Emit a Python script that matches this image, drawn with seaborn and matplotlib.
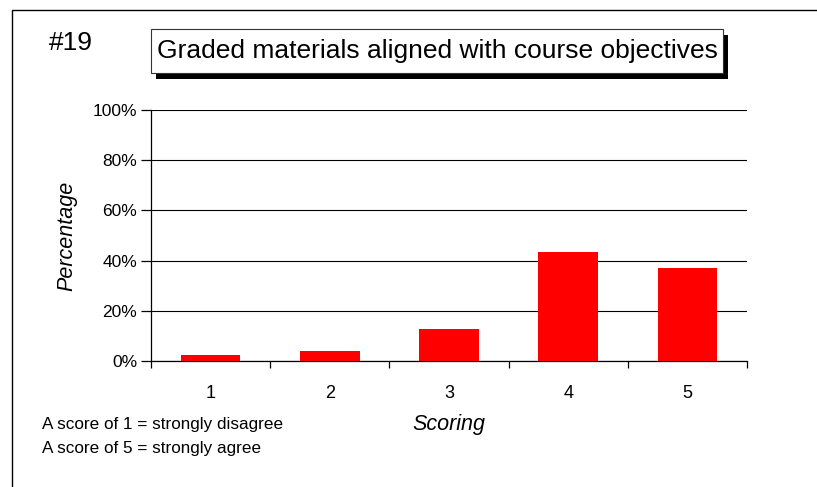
import matplotlib
matplotlib.use("Agg")
import matplotlib.pyplot as plt
import seaborn as sns
from matplotlib.patches import Rectangle

# Chart data
scores = ["1", "2", "3", "4", "5"]
percentages = [2.5, 4.1, 12.9, 43.5, 37.1]
y_ticks = [0, 20, 40, 60, 80, 100]
y_tick_labels = ["0%", "20%", "40%", "60%", "80%", "100%"]

sns.set_style("white")
plt.rcParams["font.family"] = ["Liberation Sans", "DejaVu Sans"]
plt.rcParams["text.color"] = "black"
plt.rcParams["axes.labelcolor"] = "black"
plt.rcParams["xtick.color"] = "black"
plt.rcParams["ytick.color"] = "black"

W, H = 817, 487
fig = plt.figure(figsize=(W / 100, H / 100), dpi=100)

# axes placed in pixel terms of the reference
left, right, top, bottom = 151, 747, 110, 361
ax = fig.add_axes([left / W, 1 - bottom / H, (right - left) / W, (bottom - top) / H])

sns.barplot(x=scores, y=percentages, color="#ff0000", saturation=1, width=0.5,
            edgecolor="none", linewidth=0, ax=ax, zorder=3)

ax.set_ylim(0, 100)
ax.set_xlim(-0.5, 4.5)
ax.set_yticks(y_ticks)
ax.set_yticklabels(y_tick_labels, fontsize=12.5)
ax.yaxis.grid(True, color="black", linewidth=0.8)
ax.set_axisbelow(True)

# x labels in the middle of categories, ticks on category boundaries
ax.set_xticks(range(len(scores)))
ax.set_xticklabels(scores, fontsize=13)
ax.set_xticks([i - 0.5 for i in range(len(scores) + 1)], minor=True)
ax.tick_params(axis="x", which="major", bottom=True, length=0, pad=17)
ax.tick_params(axis="x", which="minor", bottom=True, length=5, width=0.9, direction="out")
ax.tick_params(axis="y", left=True, length=7, width=0.9, direction="out", pad=3)

for s in ["top", "right"]:
    ax.spines[s].set_visible(False)
for s in ["left", "bottom"]:
    ax.spines[s].set_color("black")
    ax.spines[s].set_linewidth(0.9)

ax.set_ylabel("Percentage", fontsize=15.5, style="italic", labelpad=11)
ax.set_xlabel("Scoring", fontsize=15.5, style="italic", labelpad=9)

# outer frame (clipped at right and bottom like the reference)
fig.patches.append(Rectangle((12 / W, 1 - 600 / H), 900 / W, 590 / H, transform=fig.transFigure,
                             fill=False, edgecolor="black", linewidth=1.0))

# title box with drop shadow
fig.patches.append(Rectangle((156 / W, 1 - 79 / H), 572 / W, 44 / H, transform=fig.transFigure,
                             facecolor="black", edgecolor="black", linewidth=0))
fig.patches.append(Rectangle((151 / W, 1 - 73 / H), 572 / W, 44 / H, transform=fig.transFigure,
                             facecolor="white", edgecolor="#333333", linewidth=0.8))
fig.text(437 / W, 1 - 51 / H, "Graded materials aligned with course objectives",
         fontsize=19, ha="center", va="center")

fig.text(71 / W, 1 - 43 / H, "#19", fontsize=19, ha="center", va="center")

fig.text(42 / W, 1 - 425 / H, "A score of 1 = strongly disagree", fontsize=12.3, ha="left", va="center")
fig.text(42 / W, 1 - 448 / H, "A score of 5 = strongly agree", fontsize=12.3, ha="left", va="center")

fig.savefig("out.png", dpi=100)
